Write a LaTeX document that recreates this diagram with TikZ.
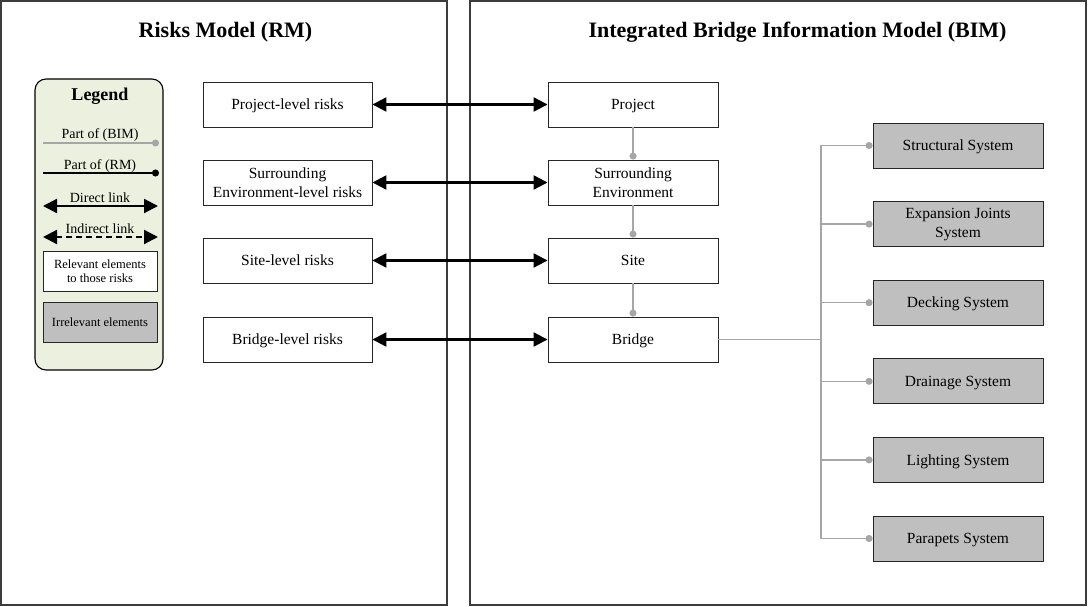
\documentclass[tikz,border=0pt]{standalone}
\usepackage{fontspec}
\setmainfont{Liberation Serif}
\usetikzlibrary{arrows.meta}
\definecolor{panelgray}{RGB}{60,60,60}
\definecolor{linegray}{RGB}{166,166,166}
\definecolor{boxgray}{RGB}{191,191,191}
\definecolor{legendgreen}{RGB}{235,241,222}
\begin{document}
\begin{tikzpicture}[x=1pt,y=-1pt,
  panel/.style={draw=panelgray,line width=1.4pt},
  wbox/.style={draw=black!85,line width=0.9pt,fill=white,minimum width=169pt,minimum height=45pt,
    align=center,font=\fontsize{15.5}{19}\selectfont,inner sep=0pt},
  oneline/.style={text height=11.5pt,text depth=1pt},
  gbox/.style={wbox,fill=boxgray,minimum width=170pt},
  titletext/.style={font=\fontsize{22}{24}\selectfont\bfseries,anchor=base},
  legtext/.style={font=\fontsize{14}{16}\selectfont,inner sep=0pt},
  smallbox/.style={draw=black!85,line width=0.9pt,minimum width=114pt,minimum height=40pt,
    align=center,font=\fontsize{12.5}{14}\selectfont,inner sep=0pt},
  link/.style={line width=2.2pt,{Triangle[length=14pt,width=14pt]}-{Triangle[length=14pt,width=14pt]}},
  ilink/.style={link,dash pattern=on 6pt off 4pt},
  partbim/.style={draw=linegray,line width=1.4pt,-{Circle[length=7pt]}},
  partrm/.style={draw=black,line width=1.2pt,-{Circle[length=7pt]}},
  grayline/.style={draw=linegray,line width=1.4pt}
]
\useasboundingbox (0,0) rectangle (1088,607);
% panels
\node[panel,minimum width=446pt,minimum height=604pt,inner sep=0pt] (leftpanel) at (224,303) {};
\node[panel,minimum width=616pt,minimum height=604pt,inner sep=0pt] (rightpanel) at (778,303) {};
\node[titletext] (ltitle) at (225.5,37.5) {Risks Model (RM)};
\node[titletext] (rtitle) at (797.5,38) {Integrated Bridge Information Model (BIM)};

% legend
\node[draw=black,line width=1.1pt,fill=legendgreen,rounded corners=11pt,minimum width=128pt,minimum height=291pt,inner sep=0pt] (legendbox) at (99,224.5) {};
\node[font=\fontsize{18}{20}\selectfont\bfseries,inner sep=0pt] (legendtitle) at (100,96) {Legend};
\node[legtext] (lbim) at (100,135) {Part of (BIM)};
\coordinate (lb1) at (43,143); \coordinate (lb2) at (159,143);
\draw[partbim] (lb1) -- (lb2);
\node[legtext] (lrm) at (100,166) {Part of (RM)};
\coordinate (lr1) at (43,173); \coordinate (lr2) at (159,173);
\draw[partrm] (lr1) -- (lr2);
\node[legtext] (ldir) at (100,198) {Direct link};
\coordinate (ld1) at (43,206); \coordinate (ld2) at (158,206);
\draw[link] (ld1) -- (ld2);
\node[legtext] (lind) at (100,228.5) {Indirect link};
\coordinate (li1) at (43,237); \coordinate (li2) at (158,237);
\draw[ilink] (li1) -- (li2);
\node[smallbox,fill=white] (lrel) at (100,271) {Relevant elements\\to those risks};
\node[smallbox,fill=boxgray] (lirr) at (100,322.5) {Irrelevant elements};

% risks
\node[wbox,oneline] (rproj) at (287.5,104.5) {Project-level risks};
\node[wbox] (rsurr) at (287.5,182.5) {Surrounding\\Environment-level risks};
\node[wbox,oneline] (rsite) at (287.5,260.5) {Site-level risks};
\node[wbox,oneline] (rbrid) at (287.5,339.5) {Bridge-level risks};

% BIM
\node[wbox,oneline,minimum width=170pt] (bproj) at (633,104.5) {Project};
\node[wbox,minimum width=170pt] (bsurr) at (633,182.5) {Surrounding\\Environment};
\node[wbox,oneline,minimum width=170pt] (bsite) at (633,260.5) {Site};
\node[wbox,oneline,minimum width=170pt] (bbrid) at (633,339.5) {Bridge};

% links
\draw[link] (rproj) -- (bproj);
\draw[link] (rsurr) -- (bsurr);
\draw[link] (rsite) -- (bsite);
\draw[link] (rbrid) -- (bbrid);

\draw[partbim] (bproj) -- (bsurr);
\draw[partbim] (bsurr) -- (bsite);
\draw[partbim] (bsite) -- (bbrid);

% systems
\node[gbox,oneline] (s1) at (958,145.5) {Structural System};
\node[gbox] (s2) at (958,224.1) {Expansion Joints\\System};
\node[gbox,oneline] (s3) at (958,302.7) {Decking System};
\node[gbox,oneline] (s4) at (958,381.3) {Drainage System};
\node[gbox,oneline] (s5) at (958,459.9) {Lighting System};
\node[gbox,oneline] (s6) at (958,538.5) {Parapets System};

\coordinate (junc) at (821,339.5);
\coordinate (jtop) at (821,145.5);
\coordinate (jbot) at (821,538.5);
\draw[grayline] (bbrid.east) -- (junc);
\draw[grayline] (jtop) -- (jbot);
\foreach \s in {s1,s2,s3,s4,s5,s6}{
  \draw[partbim] (jtop |- \s.west) -- (\s.west);
}
\end{tikzpicture}
\end{document}
